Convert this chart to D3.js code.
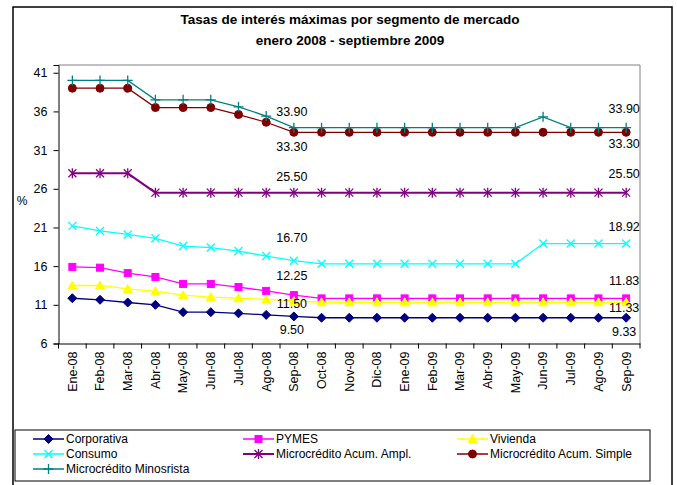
<!DOCTYPE html>
<html>
<head>
<meta charset="utf-8">
<script src="https://cdn.jsdelivr.net/npm/d3@7"></script>
<style>
  body { margin: 0; background: #fff; }
  svg { font-family: Arial, "Liberation Sans", sans-serif; }
</style>
</head>
<body>
<svg width="677" height="485"></svg>
<script>
// data
var months = ["Ene-08", "Feb-08", "Mar-08", "Abr-08", "May-08", "Jun-08", "Jul-08", "Ago-08", "Sep-08",
    "Oct-08", "Nov-08", "Dic-08", "Ene-09", "Feb-09", "Mar-09", "Abr-09", "May-09", "Jun-09",
    "Jul-09", "Ago-09", "Sep-09"];
var corporativa = [11.85, 11.65, 11.3, 11.0, 10.05, 10.05, 9.9, 9.7, 9.5,
    9.33, 9.33, 9.33, 9.33, 9.33, 9.33, 9.33, 9.33, 9.33, 9.33, 9.33, 9.33];
var pymes = [15.9, 15.8, 15.1, 14.6, 13.7, 13.7, 13.3, 12.8, 12.25,
    11.83, 11.83, 11.83, 11.83, 11.83, 11.83, 11.83, 11.83, 11.83, 11.83, 11.83, 11.83];
var vivienda = [13.5, 13.5, 13.05, 12.75, 12.25, 12.0, 11.85, 11.7, 11.5,
    11.33, 11.33, 11.33, 11.33, 11.33, 11.33, 11.33, 11.33, 11.33, 11.33, 11.33, 11.33];
var consumo = [21.2, 20.55, 20.1, 19.6, 18.6, 18.4, 17.95, 17.3, 16.7,
    16.3, 16.3, 16.3, 16.3, 16.3, 16.3, 16.3, 16.3, 18.92, 18.92, 18.92, 18.92];
var acumAmpl = [28, 28, 28, 25.5, 25.5, 25.5, 25.5, 25.5, 25.5,
    25.5, 25.5, 25.5, 25.5, 25.5, 25.5, 25.5, 25.5, 25.5, 25.5, 25.5, 25.5];
var acumSimple = [39, 39, 39, 36.5, 36.5, 36.5, 35.6, 34.6, 33.3,
    33.3, 33.3, 33.3, 33.3, 33.3, 33.3, 33.3, 33.3, 33.3, 33.3, 33.3, 33.3];
var minorista = [40, 40, 40, 37.5, 37.5, 37.5, 36.6, 35.4, 33.9,
    33.9, 33.9, 33.9, 33.9, 33.9, 33.9, 33.9, 33.9, 35.3, 33.9, 33.9, 33.9];
var yTicks = [6, 11, 16, 21, 26, 31, 36, 41];

var series = [
    {name: "Corporativa", values: corporativa, color: "#000080", marker: "diamond"},
    {name: "PYMES", values: pymes, color: "#FF00FF", marker: "square"},
    {name: "Vivienda", values: vivienda, color: "#FFFF00", marker: "triangle"},
    {name: "Consumo", values: consumo, color: "#00FFFF", marker: "x"},
    {name: "Microcrédito Acum. Ampl.", values: acumAmpl, color: "#800080", marker: "asterisk"},
    {name: "Microcrédito Acum. Simple", values: acumSimple, color: "#800000", marker: "circle"},
    {name: "Microcrédito Minosrista", values: minorista, color: "#008080", marker: "plus"}
];

// value labels shown at Sep-08 and Sep-09 (vertical offset in px)
var labelSpots = [
    {s: 6, i: 8, dy: -16}, {s: 5, i: 8, dy: 14}, {s: 4, i: 8, dy: -16}, {s: 3, i: 8, dy: -23},
    {s: 1, i: 8, dy: -20}, {s: 2, i: 8, dy: 3}, {s: 0, i: 8, dy: 13},
    {s: 6, i: 20, dy: -19}, {s: 5, i: 20, dy: 11}, {s: 4, i: 20, dy: -19}, {s: 3, i: 20, dy: -17},
    {s: 1, i: 20, dy: -18}, {s: 2, i: 20, dy: 5}, {s: 0, i: 20, dy: 14}
];

var svg = d3.select("svg");

// outer frame
svg.append("rect")
    .attr("x", 13).attr("y", 7)
    .attr("width", 659).attr("height", 490)
    .attr("fill", "none").attr("stroke", "#000").attr("stroke-width", 1.5);

svg.append("text")
    .attr("x", 350).attr("y", 24)
    .attr("text-anchor", "middle")
    .attr("font-size", 13.5).attr("font-weight", "bold")
    .text("Tasas de interés máximas por segmento de mercado");
svg.append("text")
    .attr("x", 350).attr("y", 45)
    .attr("text-anchor", "middle")
    .attr("font-size", 13.5).attr("font-weight", "bold")
    .text("enero 2008 - septiembre 2009");

var plotLeft = 58.5, plotRight = 640, plotTop = 65, plotBottom = 343.5;

var x = d3.scaleBand().domain(months).range([plotLeft, plotRight]).padding(0);
var y = d3.scaleLinear().domain([6, 42]).range([plotBottom, plotTop]);

// plot area border (grey top/right)
svg.append("path")
    .attr("d", "M" + plotLeft + "," + plotTop + "H" + plotRight + "V" + plotBottom)
    .attr("fill", "none").attr("stroke", "#808080").attr("stroke-width", 1);

// y axis
var yAxis = svg.append("g")
    .attr("transform", "translate(" + plotLeft + ",0)")
    .call(d3.axisLeft(y).tickValues(yTicks).tickSize(5).tickPadding(6));
yAxis.select(".domain").attr("stroke", "#000");
yAxis.selectAll("text").attr("font-size", 12.5).attr("fill", "#000")
    .attr("font-family", "Arial, 'Liberation Sans', sans-serif");

svg.append("text")
    .attr("x", 22).attr("y", 205)
    .attr("text-anchor", "middle")
    .attr("font-size", 12)
    .text("%");

// x axis
var xAxis = svg.append("g")
    .attr("transform", "translate(0," + plotBottom + ")")
    .call(d3.axisBottom(x).tickSize(0).tickPadding(0));
xAxis.select(".domain").attr("stroke", "#000");
xAxis.selectAll(".tick text")
    .attr("font-size", 12.5).attr("fill", "#000")
    .attr("font-family", "Arial, 'Liberation Sans', sans-serif")
    .attr("text-anchor", "end")
    .attr("transform", "translate(0,8) rotate(-90)")
    .attr("y", 0).attr("x", 0).attr("dy", "0.35em");

var edges = months.map(function (m) { return x(m); }).concat([plotRight]);
xAxis.selectAll(".edge")
    .data(edges)
    .enter().append("line")
    .attr("class", "edge")
    .attr("x1", function (d) { return d; })
    .attr("x2", function (d) { return d; })
    .attr("y1", 0).attr("y2", 5)
    .attr("stroke", "#000");

function cx(i) { return x(months[i]) + x.bandwidth() / 2; }

function drawMarker(g, type, color, sx, sy) {
    if (type === "diamond") {
        g.append("path").attr("d", "M" + sx + "," + (sy - 4.5) + "l4.5,4.5l-4.5,4.5l-4.5,-4.5z")
            .attr("fill", color).attr("stroke", color);
    } else if (type === "square") {
        g.append("rect").attr("x", sx - 3.5).attr("y", sy - 3.5).attr("width", 7).attr("height", 7)
            .attr("fill", color).attr("stroke", color);
    } else if (type === "triangle") {
        g.append("path").attr("d", "M" + sx + "," + (sy - 4.5) + "l4.5,8l-9,0z")
            .attr("fill", color).attr("stroke", color);
    } else if (type === "circle") {
        g.append("circle").attr("cx", sx).attr("cy", sy).attr("r", 4)
            .attr("fill", color).attr("stroke", color);
    } else if (type === "x") {
        g.append("path").attr("d", "M" + (sx - 4) + "," + (sy - 4) + "l8,8M" + (sx - 4) + "," + (sy + 4) + "l8,-8")
            .attr("stroke", color).attr("stroke-width", 1.3).attr("fill", "none");
    } else if (type === "asterisk") {
        g.append("path").attr("d", "M" + (sx - 4) + "," + (sy - 4) + "l8,8M" + (sx - 4) + "," + (sy + 4) + "l8,-8M" + sx + "," + (sy - 5) + "v10")
            .attr("stroke", color).attr("stroke-width", 1.3).attr("fill", "none");
    } else if (type === "plus") {
        g.append("path").attr("d", "M" + (sx - 5) + "," + sy + "h10M" + sx + "," + (sy - 5) + "v10")
            .attr("stroke", color).attr("stroke-width", 1.3).attr("fill", "none");
    }
}

var line = d3.line()
    .x(function (d, i) { return cx(i); })
    .y(function (d) { return y(d); });

series.forEach(function (s) {
    var g = svg.append("g");
    g.append("path")
        .attr("d", line(s.values))
        .attr("fill", "none")
        .attr("stroke", s.color)
        .attr("stroke-width", s.marker === "asterisk" ? 2 : 1.3);
    s.values.forEach(function (v, i) {
        drawMarker(g, s.marker, s.color, cx(i), y(v));
    });
});

// value labels
svg.append("g")
    .selectAll("text")
    .data(labelSpots)
    .enter().append("text")
    .attr("x", function (d) { return cx(d.i) - 2; })
    .attr("y", function (d) { return y(series[d.s].values[d.i]) + d.dy; })
    .attr("dy", "0.35em")
    .attr("text-anchor", "middle")
    .attr("font-size", 12.5)
    .text(function (d) { return series[d.s].values[d.i].toFixed(2); });

// legend
svg.append("rect")
    .attr("x", 15).attr("y", 430)
    .attr("width", 635).attr("height", 51)
    .attr("fill", "#fff").attr("stroke", "#000").attr("stroke-width", 1);

var legendCols = [33, 243, 457];
series.forEach(function (s, k) {
    var lx = legendCols[k % 3], ly = 439 + Math.floor(k / 3) * 15;
    var g = svg.append("g");
    g.append("line")
        .attr("x1", lx).attr("x2", lx + 31)
        .attr("y1", ly).attr("y2", ly)
        .attr("stroke", s.color).attr("stroke-width", s.marker === "asterisk" ? 2 : 1.5);
    drawMarker(g, s.marker, s.color, lx + 15.5, ly);
    g.append("text")
        .attr("x", lx + 33).attr("y", ly)
        .attr("dy", "0.35em")
        .attr("font-size", 12)
        .text(s.name);
});
</script>
</body>
</html>
